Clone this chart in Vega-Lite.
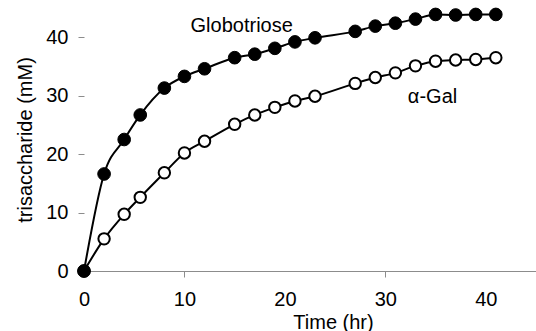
{
  "$schema": "https://vega.github.io/schema/vega-lite/v6.json",
  "width": 452,
  "height": 263,
  "autosize": {"type": "none"},
  "padding": {"left": 84, "top": 8, "right": 0, "bottom": 60},
  "background": "white",
  "config": {"view": {"stroke": null}, "font": "Liberation Sans"},
  "datasets": {
    "series": [
      {"series": "α-Gal", "t": 0, "v": 0},
      {"series": "α-Gal", "t": 2, "v": 5.5},
      {"series": "α-Gal", "t": 4, "v": 9.7},
      {"series": "α-Gal", "t": 5.6, "v": 12.6},
      {"series": "α-Gal", "t": 8, "v": 16.8},
      {"series": "α-Gal", "t": 10, "v": 20.2},
      {"series": "α-Gal", "t": 12, "v": 22.2},
      {"series": "α-Gal", "t": 15, "v": 25.1},
      {"series": "α-Gal", "t": 17, "v": 26.7},
      {"series": "α-Gal", "t": 19, "v": 28.0},
      {"series": "α-Gal", "t": 21, "v": 29.1},
      {"series": "α-Gal", "t": 23, "v": 29.9},
      {"series": "α-Gal", "t": 27, "v": 32.1},
      {"series": "α-Gal", "t": 29, "v": 33.1},
      {"series": "α-Gal", "t": 31, "v": 33.9},
      {"series": "α-Gal", "t": 33, "v": 35.1},
      {"series": "α-Gal", "t": 35, "v": 35.9},
      {"series": "α-Gal", "t": 37, "v": 36.1},
      {"series": "α-Gal", "t": 39, "v": 36.2},
      {"series": "α-Gal", "t": 41, "v": 36.5},
      {"series": "Globotriose", "t": 0, "v": 0},
      {"series": "Globotriose", "t": 2, "v": 16.6},
      {"series": "Globotriose", "t": 4, "v": 22.5},
      {"series": "Globotriose", "t": 5.6, "v": 26.7},
      {"series": "Globotriose", "t": 8, "v": 31.3},
      {"series": "Globotriose", "t": 10, "v": 33.3},
      {"series": "Globotriose", "t": 12, "v": 34.6},
      {"series": "Globotriose", "t": 15, "v": 36.5},
      {"series": "Globotriose", "t": 17, "v": 37.1},
      {"series": "Globotriose", "t": 19, "v": 38.1},
      {"series": "Globotriose", "t": 21, "v": 39.2},
      {"series": "Globotriose", "t": 23, "v": 39.9},
      {"series": "Globotriose", "t": 27, "v": 41.0},
      {"series": "Globotriose", "t": 29, "v": 41.9},
      {"series": "Globotriose", "t": 31, "v": 42.4},
      {"series": "Globotriose", "t": 33, "v": 43.1},
      {"series": "Globotriose", "t": 35, "v": 43.9},
      {"series": "Globotriose", "t": 37, "v": 43.8},
      {"series": "Globotriose", "t": 39, "v": 43.9},
      {"series": "Globotriose", "t": 41, "v": 43.9}
    ],
    "labels": [
      {"label": "Globotriose", "t": 15.7, "v": 41.9},
      {"label": "α-Gal", "t": 34.7, "v": 29.8}
    ]
  },
  "encoding": {
    "x": {
      "field": "t", "type": "quantitative",
      "scale": {"domain": [0, 45], "nice": false},
      "axis": {
        "title": "Time (hr)",
        "values": [0, 10, 20, 30, 40],
        "grid": false,
        "labelFlush": false,
        "domainColor": "#8c8c8c",
        "domainWidth": 1,
        "tickColor": {"condition": {"test": "datum.value == 10 || datum.value == 30", "value": "#8c8c8c"}, "value": "transparent"},
        "tickSize": 6,
        "labelFontSize": 20,
        "labelColor": "black",
        "labelPadding": 12,
        "labelFont": "Liberation Sans",
        "titleFont": "Liberation Sans",
        "titleFontSize": 20,
        "titleFontWeight": "normal",
        "titleColor": "black",
        "titleX": 249,
        "titleY": 51,
        "titleBaseline": "middle"
      }
    },
    "y": {
      "field": "v", "type": "quantitative",
      "scale": {"domain": [0, 45], "nice": false},
      "axis": {
        "title": "trisaccharide (mM)",
        "values": [0, 10, 20, 30, 40],
        "grid": false,
        "domain": false,
        "labelFlush": false,
        "tickColor": "#8c8c8c",
        "tickSize": 6,
        "labelFontSize": 20,
        "labelColor": "black",
        "labelPadding": 10,
        "labelFont": "Liberation Sans",
        "titleFont": "Liberation Sans",
        "titleFontSize": 20,
        "titleFontWeight": "normal",
        "titleColor": "black",
        "titleX": -59,
        "titleBaseline": "middle"
      }
    }
  },
  "layer": [
    {
      "data": {"name": "series"},
      "mark": {"type": "line", "color": "black", "strokeWidth": 2, "interpolate": "monotone"},
      "encoding": {"detail": {"field": "series"}}
    },
    {
      "data": {"name": "series"},
      "transform": [{"filter": "datum.series == 'α-Gal'"}],
      "mark": {"type": "point", "shape": "circle", "filled": false, "fill": "white", "stroke": "black", "strokeWidth": 2, "opacity": 1, "size": 130}
    },
    {
      "data": {"name": "series"},
      "transform": [{"filter": "datum.series == 'Globotriose'"}],
      "mark": {"type": "point", "shape": "circle", "filled": true, "fill": "black", "stroke": "black", "strokeWidth": 1, "opacity": 1, "size": 160}
    },
    {
      "data": {"name": "labels"},
      "mark": {"type": "text", "font": "Liberation Sans", "fontSize": 20, "color": "black", "baseline": "middle", "align": "center"},
      "encoding": {"text": {"field": "label"}}
    }
  ]
}
